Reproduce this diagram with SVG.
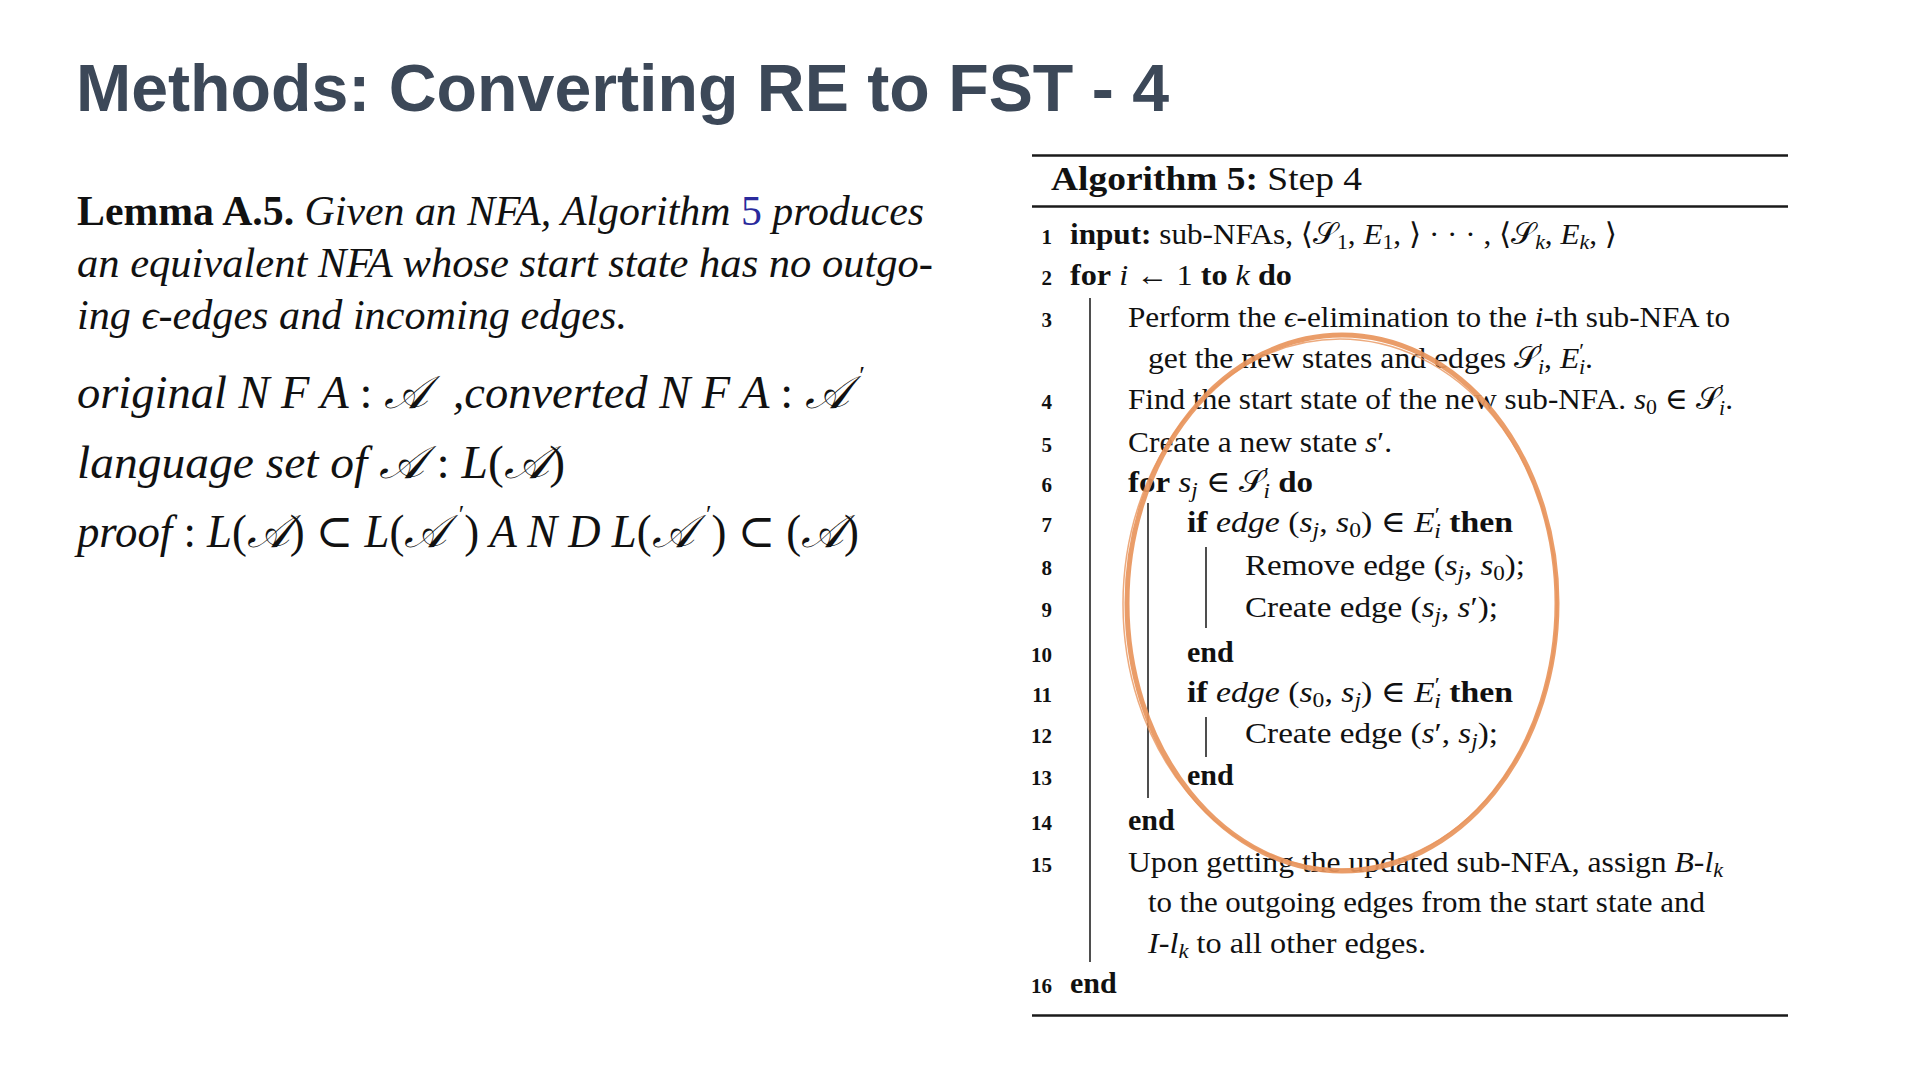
<svg xmlns="http://www.w3.org/2000/svg" width="1920" height="1080" viewBox="0 0 1920 1080">
<defs>
<style>
.title{font-family:"Liberation Sans",Arial,sans-serif;font-weight:bold;font-size:66px;fill:#3c4858}
.lem{font-family:"Liberation Serif","DejaVu Serif",serif;font-size:42px;fill:#111;font-style:italic}
.math{font-family:"Liberation Serif","DejaVu Serif",serif;font-size:46px;fill:#111;font-style:italic}
.alg{font-family:"Liberation Serif","DejaVu Serif",serif;font-size:30px;fill:#111}
.hd{font-family:"Liberation Serif","DejaVu Serif",serif;font-size:34px;fill:#111}
.num{font-family:"Liberation Serif","DejaVu Serif",serif;font-size:21px;font-weight:bold;fill:#111;text-anchor:end}
.b{font-weight:bold;font-style:normal}
.i{font-style:italic}
.r{font-style:normal}
.rule{stroke:#1a1a1a;stroke-width:2.5}
.bar{stroke:#222;stroke-width:1.6}
.sub{font-size:21px}
.pr{font-style:normal;font-size:26px}
</style>
</defs>
<rect width="1920" height="1080" fill="#ffffff"/>

<g id="title">
<text class="title" x="76" y="111" textLength="1093" lengthAdjust="spacingAndGlyphs">Methods: Converting RE to FST - 4</text>
</g>

<g id="lemma">
<text class="lem" x="77" y="225" textLength="847" lengthAdjust="spacingAndGlyphs"><tspan class="b">Lemma A.5.</tspan> Given an NFA, Algorithm <tspan class="r" fill="#2a2a9c">5</tspan> produces</text>
<text class="lem" x="77" y="277" textLength="856" lengthAdjust="spacingAndGlyphs">an equivalent NFA whose start state has no outgo-</text>
<text class="lem" x="77" y="329" textLength="550" lengthAdjust="spacingAndGlyphs">ing ϵ-edges and incoming edges.</text>
</g>

<g id="math">
<text class="math" x="77" y="408" textLength="788" lengthAdjust="spacingAndGlyphs">original N F A <tspan class="r">:</tspan> 𝒜<tspan dx="24">,converted N F A </tspan><tspan class="r">:</tspan> 𝒜<tspan class="pr" dx="10" dy="-24">′</tspan></text>
<text class="math" x="77" y="478" textLength="488" lengthAdjust="spacingAndGlyphs">language set of 𝒜 <tspan class="r">:</tspan> L<tspan class="r">(</tspan>𝒜<tspan class="r">)</tspan></text>
<text class="math" x="77" y="547" textLength="782" lengthAdjust="spacingAndGlyphs">proof <tspan class="r">:</tspan> L<tspan class="r">(</tspan>𝒜<tspan class="r">) ⊂ </tspan>L<tspan class="r">(</tspan>𝒜<tspan class="pr" dx="12" dy="-24">′</tspan><tspan class="r" dy="24">)</tspan> A N D L<tspan class="r">(</tspan>𝒜<tspan class="pr" dx="12" dy="-24">′</tspan><tspan class="r" dy="24">) ⊂ (</tspan>𝒜<tspan class="r">)</tspan></text>
</g>

<g id="algorithm">
<line class="rule" x1="1032" y1="155.5" x2="1788" y2="155.5"/>
<text class="hd" x="1051" y="190" textLength="311" lengthAdjust="spacingAndGlyphs"><tspan font-weight="bold">Algorithm 5:</tspan> Step 4</text>
<line class="rule" x1="1032" y1="206.5" x2="1788" y2="206.5"/>

<g id="line-numbers">
<text class="num" x="1052" y="244">1</text>
<text class="num" x="1052" y="285">2</text>
<text class="num" x="1052" y="327">3</text>
<text class="num" x="1052" y="409">4</text>
<text class="num" x="1052" y="452">5</text>
<text class="num" x="1052" y="492">6</text>
<text class="num" x="1052" y="532">7</text>
<text class="num" x="1052" y="575">8</text>
<text class="num" x="1052" y="617">9</text>
<text class="num" x="1052" y="662">10</text>
<text class="num" x="1052" y="702">11</text>
<text class="num" x="1052" y="743">12</text>
<text class="num" x="1052" y="785">13</text>
<text class="num" x="1052" y="830">14</text>
<text class="num" x="1052" y="872">15</text>
<text class="num" x="1052" y="993">16</text>
</g>

<g id="bars">
<line class="bar" x1="1090" y1="298" x2="1090" y2="962"/>
<line class="bar" x1="1148" y1="503" x2="1148" y2="798"/>
<line class="bar" x1="1206" y1="547" x2="1206" y2="628"/>
<line class="bar" x1="1206" y1="717" x2="1206" y2="757"/>
</g>

<g id="code">
<text class="alg" x="1070" y="244" textLength="547" lengthAdjust="spacingAndGlyphs"><tspan class="b">input:</tspan> sub-NFAs, ⟨𝒮<tspan class="sub" dy="5">1</tspan><tspan dy="-5">, </tspan><tspan class="i">E</tspan><tspan class="sub" dy="5">1</tspan><tspan dy="-5">, ⟩ · · · , ⟨𝒮</tspan><tspan class="sub i" dy="5">k</tspan><tspan dy="-5">, </tspan><tspan class="i">E</tspan><tspan class="sub i" dy="5">k</tspan><tspan dy="-5">, ⟩</tspan></text>
<text class="alg" x="1070" y="285" textLength="222" lengthAdjust="spacingAndGlyphs"><tspan class="b">for</tspan> <tspan class="i">i</tspan> ← 1 <tspan class="b">to</tspan> <tspan class="i">k</tspan> <tspan class="b">do</tspan></text>
<text class="alg" x="1128" y="327" textLength="602" lengthAdjust="spacingAndGlyphs">Perform the <tspan class="i">ϵ</tspan>-elimination to the <tspan class="i">i</tspan>-th sub-NFA to</text>
<text class="alg" x="1148" y="368" textLength="445" lengthAdjust="spacingAndGlyphs">get the new states and edges 𝒮<tspan class="sub" dy="-10">′</tspan><tspan class="sub i" dx="-5" dy="16">i</tspan><tspan dy="-6">, </tspan><tspan class="i">E</tspan><tspan class="sub" dy="-10">′</tspan><tspan class="sub i" dx="-5" dy="16">i</tspan><tspan dy="-6">.</tspan></text>
<text class="alg" x="1128" y="409" textLength="605" lengthAdjust="spacingAndGlyphs">Find the start state of the new sub-NFA. <tspan class="i">s</tspan><tspan class="sub" dy="5">0</tspan><tspan dy="-5"> ∈ 𝒮</tspan><tspan class="sub" dy="-10">′</tspan><tspan class="sub i" dx="-5" dy="16">i</tspan><tspan dy="-6">.</tspan></text>
<text class="alg" x="1128" y="452" textLength="264" lengthAdjust="spacingAndGlyphs">Create a new state <tspan class="i">s</tspan>′.</text>
<text class="alg" x="1128" y="492" textLength="185" lengthAdjust="spacingAndGlyphs"><tspan class="b">for</tspan> <tspan class="i">s</tspan><tspan class="sub i" dy="5">j</tspan><tspan dy="-5"> ∈ 𝒮</tspan><tspan class="sub" dy="-10">′</tspan><tspan class="sub i" dx="-5" dy="16">i</tspan><tspan dy="-6"> </tspan><tspan class="b">do</tspan></text>
<text class="alg" x="1187" y="532" textLength="326" lengthAdjust="spacingAndGlyphs"><tspan class="b">if</tspan> <tspan class="i">edge</tspan> (<tspan class="i">s</tspan><tspan class="sub i" dy="5">j</tspan><tspan dy="-5">, </tspan><tspan class="i">s</tspan><tspan class="sub" dy="5">0</tspan><tspan dy="-5">) ∈ </tspan><tspan class="i">E</tspan><tspan class="sub" dy="-10">′</tspan><tspan class="sub i" dx="-5" dy="16">i</tspan><tspan dy="-6"> </tspan><tspan class="b">then</tspan></text>
<text class="alg" x="1245" y="575" textLength="280" lengthAdjust="spacingAndGlyphs">Remove edge (<tspan class="i">s</tspan><tspan class="sub i" dy="5">j</tspan><tspan dy="-5">, </tspan><tspan class="i">s</tspan><tspan class="sub" dy="5">0</tspan><tspan dy="-5">);</tspan></text>
<text class="alg" x="1245" y="617" textLength="253" lengthAdjust="spacingAndGlyphs">Create edge (<tspan class="i">s</tspan><tspan class="sub i" dy="5">j</tspan><tspan dy="-5">, </tspan><tspan class="i">s</tspan>′);</text>
<text class="alg b" x="1187" y="662">end</text>
<text class="alg" x="1187" y="702" textLength="326" lengthAdjust="spacingAndGlyphs"><tspan class="b">if</tspan> <tspan class="i">edge</tspan> (<tspan class="i">s</tspan><tspan class="sub" dy="5">0</tspan><tspan dy="-5">, </tspan><tspan class="i">s</tspan><tspan class="sub i" dy="5">j</tspan><tspan dy="-5">) ∈ </tspan><tspan class="i">E</tspan><tspan class="sub" dy="-10">′</tspan><tspan class="sub i" dx="-5" dy="16">i</tspan><tspan dy="-6"> </tspan><tspan class="b">then</tspan></text>
<text class="alg" x="1245" y="743" textLength="253" lengthAdjust="spacingAndGlyphs">Create edge (<tspan class="i">s</tspan>′, <tspan class="i">s</tspan><tspan class="sub i" dy="5">j</tspan><tspan dy="-5">);</tspan></text>
<text class="alg b" x="1187" y="785">end</text>
<text class="alg b" x="1128" y="830">end</text>
<text class="alg" x="1128" y="872" textLength="595" lengthAdjust="spacingAndGlyphs">Upon getting the updated sub-NFA, assign <tspan class="i">B</tspan>-<tspan class="i">l</tspan><tspan class="sub i" dy="5">k</tspan></text>
<text class="alg" x="1148" y="912" textLength="557" lengthAdjust="spacingAndGlyphs">to the outgoing edges from the start state and</text>
<text class="alg" x="1148" y="953" textLength="278" lengthAdjust="spacingAndGlyphs"><tspan class="i">I</tspan>-<tspan class="i">l</tspan><tspan class="sub i" dy="5">k</tspan><tspan dy="-5"> to all other edges.</tspan></text>
<text class="alg b" x="1070" y="993">end</text>
</g>

<line class="rule" x1="1032" y1="1015.5" x2="1788" y2="1015.5"/>
</g>

<g id="highlight" fill="none" stroke="#e8955c" stroke-linecap="round">
<ellipse cx="1342" cy="603" rx="215" ry="268" stroke-width="5" opacity="0.92"/>
<ellipse cx="1340" cy="604" rx="217" ry="265" stroke-width="1.5" opacity="0.8"/>
</g>
</svg>
